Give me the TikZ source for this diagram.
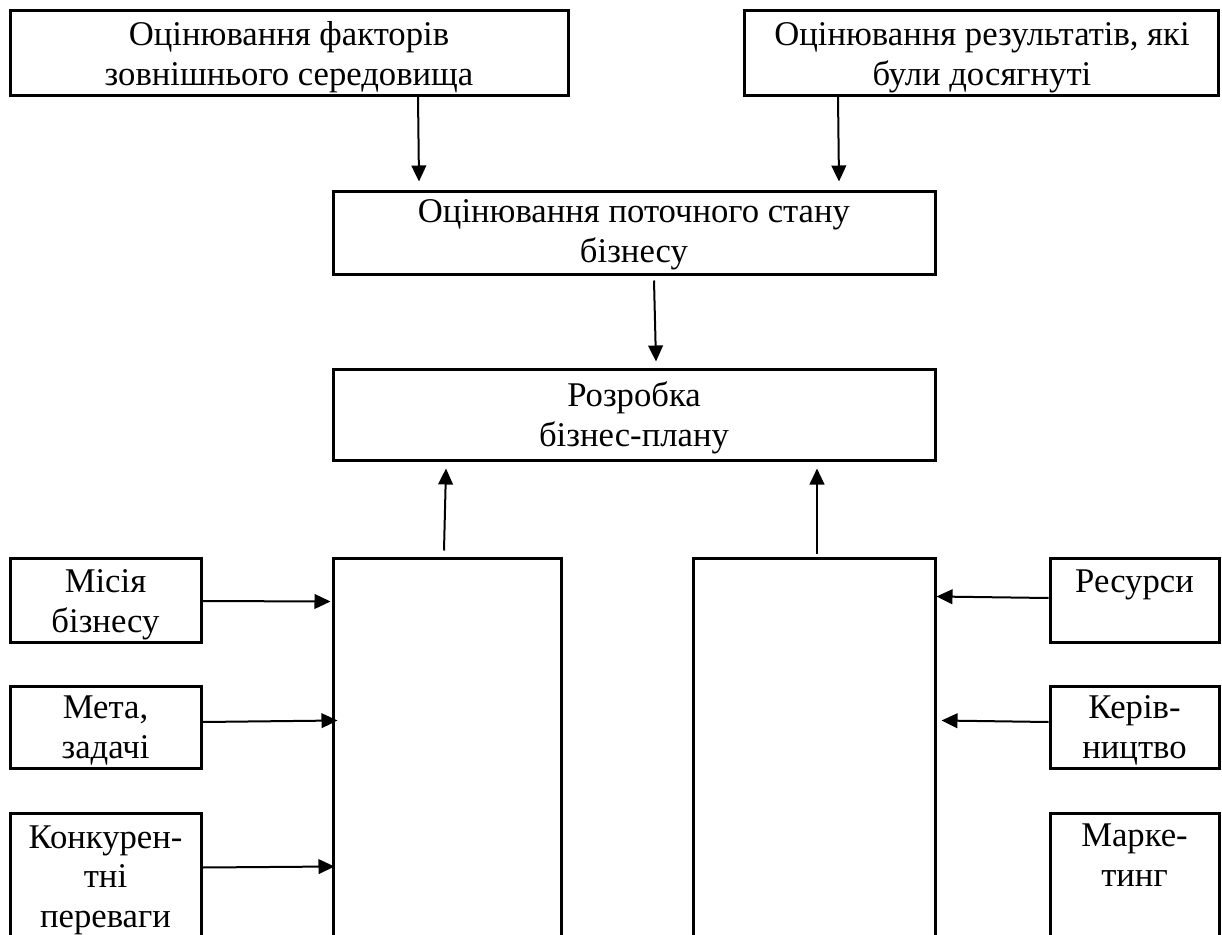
\documentclass[tikz,border=0pt]{standalone}
\usepackage{fontspec}
\setmainfont{Liberation Serif}
\usetikzlibrary{arrows.meta}
\newdimen\px \px=0.75pt
\tikzset{
  box/.style={draw, line width=2.25pt, rectangle, inner sep=0pt},
  txt/.style={inner sep=0pt, align=center, anchor=base,
    font=\fontsize{26pt}{29.6pt}\selectfont},
  arr/.style={line width=1.5pt, -{Triangle[length=12pt,width=11pt]}}
}
\begin{document}
\begin{tikzpicture}[x=0.75pt,y=-0.75pt]
\clip (0,0) rectangle (1222,935);
\fill[white] (0,0) rectangle (1222,935);
% boxes
\node[box, minimum width=558\px, minimum height=85\px] (b1) at (289,52.5) {};
\node[box, minimum width=474\px, minimum height=85\px] (b2) at (981,52.5) {};
\node[box, minimum width=602\px, minimum height=83\px] (b3) at (634,232.5) {};
\node[box, minimum width=602\px, minimum height=91\px] (b4) at (634,414.5) {};
\node[box, minimum width=228\px, minimum height=422\px] (L) at (447,769) {};
\node[box, minimum width=242\px, minimum height=422\px] (R) at (814,769) {};
\node[box, minimum width=191\px, minimum height=84\px] (m1) at (105.5,600) {};
\node[box, minimum width=191\px, minimum height=82\px] (m2) at (105.5,727) {};
\node[box, minimum width=191\px, minimum height=167\px] (m3) at (105.5,896.5) {};
\node[box, minimum width=169\px, minimum height=84\px] (r1) at (1134.5,600) {};
\node[box, minimum width=169\px, minimum height=82\px] (r2) at (1134.5,727) {};
\node[box, minimum width=169\px, minimum height=167\px] (r3) at (1134.5,896.5) {};
% texts (anchor base = baseline of the last line)
\node[txt] (t1) at (289,85) {Оцінювання факторів\\зовнішнього середовища};
\node[txt] (t2) at (982,85) {Оцінювання результатів, які\\були досягнуті};
\node[txt] (t3) at (634,262) {Оцінювання поточного стану\\бізнесу};
\node[txt] (t4) at (634,446) {Розробка\\бізнес-плану};
\node[txt] (tm1) at (105.5,632) {Місія\\бізнесу};
\node[txt] (tm2) at (105.5,758) {Мета,\\задачі};
\node[txt] (tm3) at (105.5,927) {Конкурен-\\тні\\переваги};
\node[txt] (tr1) at (1134.5,592) {Ресурси};
\node[txt] (tr2) at (1134.5,758) {Керів-\\ництво};
\node[txt] (tr3) at (1134.5,886) {Марке-\\тинг};
% arrows
\draw[arr] ([xshift=129\px]b1.south) -- ([xshift=-215\px,yshift=8\px]b3.north);
\draw[arr] ([xshift=-143\px]b2.south) -- ([xshift=205\px,yshift=8\px]b3.north);
\draw[arr] ([xshift=20\px,yshift=-5\px]b3.south) -- ([xshift=22\px,yshift=6\px]b4.north);
\draw[arr] ([xshift=-3\px,yshift=6\px]L.north) -- ([xshift=-188\px,yshift=-7\px]b4.south);
\draw[arr] ([xshift=3\px,yshift=3\px]R.north) -- ([xshift=183\px,yshift=-7\px]b4.south);
\draw[arr] ([xshift=-2\px,yshift=-1\px]m1.east) -- ([xshift=-1\px,yshift=-45\px]L.north west);
\draw[arr] ([yshift=5\px]m2.east) -- ([xshift=6\px,yshift=-164\px]L.north west);
\draw[arr] ([yshift=-56\px]m3.north east) -- ([xshift=3\px,yshift=-310\px]L.north west);
\draw[arr] ([yshift=2\px]r1.west) -- ([yshift=-40\px]R.north east);
\draw[arr] ([yshift=5\px]r2.west) -- ([xshift=5\px,yshift=-164\px]R.north east);
\end{tikzpicture}
\end{document}
